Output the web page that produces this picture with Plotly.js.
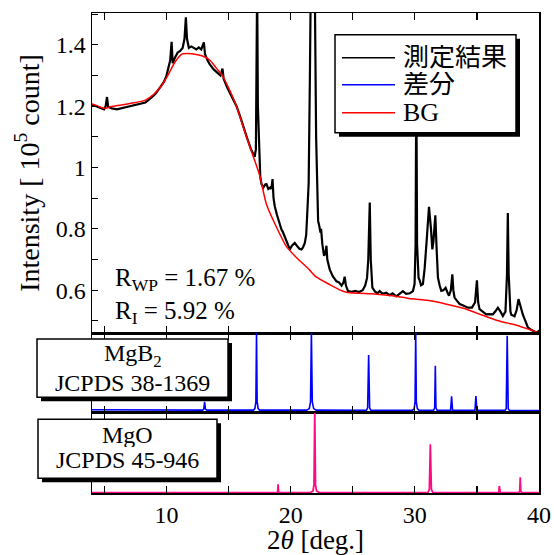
<!DOCTYPE html>
<html>
<head>
<meta charset="utf-8">
<script src="https://cdn.plot.ly/plotly-3.0.1.min.js"></script>
<style>html,body{margin:0;padding:0;background:#fff;}#chart{width:554px;height:555px;}</style>
</head>
<body>
<div id="chart"></div>
<script>
// ---- Data ----
// Measured pattern (2theta in deg, intensity in 10^5 count)
const measX = [4.00,4.30,4.60,4.97,5.10,5.21,5.30,5.60,6.00,6.50,7.00,7.50,7.90,8.30,8.70,9.10,9.50,9.80,10.00,10.15,10.30,10.41,10.50,10.70,10.90,11.10,11.30,11.45,11.56,11.65,11.80,12.00,12.20,12.40,12.60,12.80,13.01,13.10,13.30,13.49,13.80,14.10,14.35,14.51,14.60,14.90,15.20,15.50,15.64,15.90,16.20,16.50,16.80,16.98,17.10,17.20,17.25,17.30,17.36,17.45,17.55,17.65,17.80,17.95,18.05,18.20,18.35,18.45,18.54,18.62,18.72,18.90,19.10,19.26,19.35,19.50,19.70,19.93,20.10,20.33,20.50,20.70,20.87,21.00,21.14,21.25,21.32,21.45,21.55,21.62,21.80,21.94,22.05,22.15,22.21,22.30,22.40,22.45,22.55,22.69,22.80,22.88,22.95,23.15,23.40,23.69,23.90,24.10,24.25,24.35,24.45,24.62,24.90,25.20,25.50,25.80,26.00,26.15,26.25,26.37,26.45,26.58,26.80,27.00,27.17,27.40,27.70,27.97,28.20,28.51,28.80,29.04,29.30,29.60,29.85,29.98,30.06,30.12,30.18,30.30,30.39,30.50,30.65,30.79,30.95,31.14,31.30,31.41,31.50,31.65,31.75,31.86,32.00,32.13,32.30,32.48,32.60,32.75,32.90,33.02,33.10,33.20,33.40,33.61,33.90,34.27,34.60,34.85,35.00,35.10,35.21,35.50,35.75,36.00,36.29,36.50,36.69,36.90,37.09,37.30,37.42,37.49,37.56,37.70,37.77,38.03,38.20,38.35,38.50,38.70,38.90,39.10,39.40,39.78,39.96,40.00];
const measY = [1.205,1.200,1.195,1.190,1.200,1.230,1.198,1.193,1.190,1.195,1.200,1.205,1.207,1.212,1.225,1.240,1.262,1.280,1.300,1.330,1.350,1.410,1.340,1.360,1.375,1.380,1.390,1.420,1.490,1.420,1.390,1.395,1.390,1.385,1.392,1.385,1.408,1.370,1.350,1.336,1.320,1.310,1.300,1.323,1.290,1.260,1.235,1.210,1.200,1.170,1.130,1.095,1.060,1.042,1.035,1.060,1.200,1.600,1.200,1.050,0.970,0.946,0.935,0.945,0.946,0.930,0.935,0.930,0.962,0.900,0.874,0.845,0.815,0.798,0.792,0.775,0.755,0.733,0.745,0.754,0.745,0.735,0.733,0.740,0.754,0.780,0.837,0.950,1.300,1.600,1.550,1.600,1.100,0.870,0.826,0.810,0.788,0.800,0.750,0.712,0.720,0.745,0.700,0.667,0.645,0.629,0.625,0.615,0.625,0.644,0.615,0.597,0.595,0.598,0.594,0.600,0.615,0.640,0.700,0.886,0.700,0.608,0.595,0.590,0.597,0.588,0.592,0.584,0.590,0.580,0.590,0.597,0.588,0.590,0.597,0.620,0.750,1.300,0.750,0.640,0.632,0.616,0.620,0.671,0.760,0.872,0.800,0.733,0.760,0.844,0.740,0.641,0.615,0.598,0.600,0.608,0.595,0.582,0.600,0.652,0.600,0.576,0.565,0.555,0.550,0.543,0.543,0.560,0.632,0.560,0.538,0.530,0.521,0.522,0.521,0.532,0.543,0.530,0.516,0.530,0.650,0.852,0.650,0.530,0.520,0.515,0.535,0.571,0.545,0.520,0.500,0.479,0.470,0.462,0.465,0.470];
// Background
const bgX = [4.0,4.5,4.97,5.5,6.5,7.5,8.3,9.0,9.5,10.1,10.7,11.24,11.6,12.5,13.0,13.5,14.0,14.5,15.0,15.64,16.2,16.98,17.5,18.05,18.85,19.65,20.5,21.5,22.0,23.15,24.0,24.5,25.5,26.5,27.4,28.5,29.4,30.0,31.0,32.0,33.0,34.0,35.0,36.0,37.0,38.0,39.0,39.5,40.0];
const bgY = [1.207,1.200,1.193,1.198,1.205,1.212,1.220,1.240,1.262,1.300,1.345,1.370,1.372,1.368,1.362,1.350,1.325,1.300,1.260,1.200,1.130,1.037,0.975,0.880,0.806,0.743,0.705,0.667,0.645,0.618,0.600,0.593,0.590,0.588,0.585,0.580,0.574,0.571,0.567,0.560,0.550,0.540,0.525,0.510,0.497,0.488,0.475,0.468,0.460];
// MgB2 reference (JCPDS 38-1369), relative intensity
const mgb2X = [4.0,8.0,12.9,13.0,13.07,13.14,13.25,17.0,17.12,17.2,17.25,17.3,17.38,17.5,21.3,21.5,21.6,21.67,21.74,21.85,22.05,26.1,26.2,26.28,26.36,26.45,29.8,29.95,30.02,30.07,30.12,30.2,30.35,31.5,31.6,31.65,31.7,31.8,32.88,32.96,33.04,34.84,34.92,35.0,37.25,37.36,37.44,37.52,37.63,40.0];
const mgb2Y = [1.5,1.3,1.1,2.5,11.6,2.5,1.1,1.1,3,12,101,12,3,1.1,1.0,3,12,101,12,3,1.0,0.9,4,72,4,0.9,0.8,3,12,101,12,3,0.8,0.8,4,58,4,0.8,0.8,18.7,0.8,0.7,19,0.7,0.7,3,96.5,3,0.7,0.5];
// MgO reference (JCPDS 45-946), relative intensity
const mgoX = [4.0,18.88,18.95,18.99,19.03,19.10,21.6,21.8,21.88,21.94,22.0,22.08,22.3,31.05,31.17,31.25,31.33,31.45,36.72,36.77,36.8,36.83,36.88,38.38,38.45,38.49,38.53,38.6,40.0];
const mgoY = [0,0,1,10.4,1,0,0,2,10,101,10,2,0,0,4,60.7,4,0,0,1,8.3,1,0,0,2,19.2,2,0,0];
// Tick labels
const xTickVals = [10,20,30,40];
const xTickText = ['10','20','30','40'];
const xMinorVals = [5,15,25,35];
const yTickVals = [0.6,0.8,1.0,1.2,1.4];
const yTickText = ['0.6','0.8','1','1.2','1.4'];
const yMinorVals = [0.5,0.7,0.9,1.1,1.3,1.5];
const yAllVals = [0.5,0.6,0.7,0.8,0.9,1.0,1.1,1.2,1.3,1.4,1.5];
const seriesNames = ['測定結果','差分','BG'];
const seriesColors = ['#000000','#0000ff','#ff0000'];

// ---- Layout helpers ----
const W = 554, H = 555;
const L = 92, R = 539, T = 13.3, B = 492.7;
const px = v => (v - L) / (R - L);
const py = v => (B - v) / (B - T);
const FONT = 'Liberation Serif, Lato, Noto Sans CJK JP';

const traces = [
  {x: measX, y: measY, xaxis: 'x', yaxis: 'y', mode: 'lines', name: seriesNames[0],
   line: {color: seriesColors[0], width: 2.2}},
  {x: mgb2X, y: mgb2Y, xaxis: 'x2', yaxis: 'y2', mode: 'lines', name: seriesNames[1],
   line: {color: seriesColors[1], width: 1.6}},
  {x: bgX, y: bgY, xaxis: 'x', yaxis: 'y', mode: 'lines', name: seriesNames[2],
   line: {color: seriesColors[2], width: 1.5, shape: 'spline', smoothing: 0.6}},
  {x: mgoX, y: mgoY, xaxis: 'x3', yaxis: 'y3', mode: 'lines', name: 'MgO',
   line: {color: '#ff0a84', width: 1.8}}
];

const xCommon = {
  range: [4, 40], showgrid: false, zeroline: false,
  showline: true, linecolor: '#000', linewidth: 1.5, mirror: 'ticks',
  ticks: 'inside', ticklen: 7, tickwidth: 1.2, tickcolor: '#000',
  tickmode: 'array', tickvals: xTickVals, ticktext: xTickText,
  minor: {tickmode: 'array', tickvals: xMinorVals, ticks: 'inside', ticklen: 7, tickwidth: 1.2, tickcolor: '#000'}
};
const d1 = [py(333), 1], d2 = [py(412.7), py(333)], d3 = [0, py(412.7)];

// legend drawn as a framed box with a drop shadow
const legRows = [57, 84, 112];
const legShapes = [
  {type: 'rect', xref: 'paper', yref: 'paper', x0: px(339), x1: px(520), y0: py(137), y1: py(39),
   fillcolor: '#000', line: {width: 0}, layer: 'above'},
  {type: 'rect', xref: 'paper', yref: 'paper', x0: px(335), x1: px(516), y0: py(133), y1: py(35),
   fillcolor: '#fff', line: {color: '#000', width: 1.5}, layer: 'above'}
];
const legAnns = [];
seriesNames.forEach((n, i) => {
  legShapes.push({type: 'line', xref: 'paper', yref: 'paper', x0: px(342), x1: px(395),
    y0: py(legRows[i] + 1), y1: py(legRows[i] + 1), line: {color: seriesColors[i], width: 1.5}, layer: 'above'});
  legAnns.push({xref: 'paper', yref: 'paper', x: px(401), y: py(legRows[i]), xanchor: 'left', yanchor: 'middle',
    text: n, showarrow: false, font: {family: FONT, size: 26}, height: 24});
});

const layout = {
  width: W, height: H,
  margin: {l: L, r: W - R, t: T, b: H - B, pad: 0},
  paper_bgcolor: '#fff', plot_bgcolor: '#fff',
  font: {family: FONT, size: 24, color: '#000'},
  showlegend: false,
  xaxis: Object.assign({}, xCommon, {anchor: 'y', showticklabels: false}),
  xaxis2: Object.assign({}, xCommon, {anchor: 'y2', matches: 'x', showticklabels: false}),
  xaxis3: Object.assign({}, xCommon, {anchor: 'y3', matches: 'x', showticklabels: true,
    tickfont: {family: FONT, size: 24},
    title: {text: '2<i>θ</i> [deg.]', font: {family: FONT, size: 27}, standoff: 10}}),
  yaxis: {
    domain: d1, range: [0.46, 1.504], anchor: 'x', showgrid: false, zeroline: false,
    showline: true, linecolor: '#000', linewidth: 1.5, mirror: true,
    ticks: 'inside', ticklen: 6, tickwidth: 1.2, tickcolor: '#000',
    tickmode: 'array', tickvals: yTickVals, ticktext: yTickText,
    minor: {tickmode: 'array', tickvals: yMinorVals, ticks: 'inside', ticklen: 6, tickwidth: 1.2, tickcolor: '#000'},
    tickfont: {family: FONT, size: 24},
    title: {text: 'Intensity [ 10<sup>5</sup> count]', font: {family: FONT, size: 28}, standoff: 8}
  },
  yaxis4: {
    overlaying: 'y', side: 'right', anchor: 'x', range: [0.46, 1.504],
    showgrid: false, zeroline: false, showline: false,
    ticks: 'inside', ticklen: 10, tickwidth: 1.2, tickcolor: '#000',
    tickmode: 'array', tickvals: yAllVals, showticklabels: false
  },
  yaxis2: {
    domain: d2, range: [-2.5, 100], anchor: 'x2', showgrid: false, zeroline: false,
    showline: true, linecolor: '#000', linewidth: 1.5, mirror: true, ticks: '', showticklabels: false
  },
  yaxis3: {
    domain: d3, range: [-0.5, 100], anchor: 'x3', showgrid: false, zeroline: false,
    showline: true, linecolor: '#000', linewidth: 1.5, mirror: true, ticks: '', showticklabels: false
  },
  shapes: legShapes.concat([
    // MgB2 label box (shadow + box)
    {type: 'rect', xref: 'paper', yref: 'paper', x0: px(41), x1: px(232), y0: py(401), y1: py(343),
     fillcolor: '#000', line: {width: 0}, layer: 'above'},
    {type: 'rect', xref: 'paper', yref: 'paper', x0: px(37), x1: px(228), y0: py(397), y1: py(339),
     fillcolor: '#fff', line: {color: '#000', width: 1.5}, layer: 'above'},
    // MgO label box (shadow + box)
    {type: 'rect', xref: 'paper', yref: 'paper', x0: px(42), x1: px(221), y0: py(482), y1: py(423),
     fillcolor: '#000', line: {width: 0}, layer: 'above'},
    {type: 'rect', xref: 'paper', yref: 'paper', x0: px(38), x1: px(217), y0: py(478), y1: py(419),
     fillcolor: '#fff', line: {color: '#000', width: 1.5}, layer: 'above'}
  ]),
  annotations: legAnns.concat([
    {xref: 'paper', yref: 'paper', x: px(113), y: py(262), xanchor: 'left', yanchor: 'top',
     text: 'R<sub>WP</sub> = 1.67 %<br>R<sub>I</sub> = 5.92 %', align: 'left', showarrow: false,
     font: {family: FONT, size: 25}},
    {xref: 'paper', yref: 'paper', x: px(132.5), y: py(355), xanchor: 'center', yanchor: 'middle',
     text: 'MgB<sub>2</sub>', showarrow: false, font: {family: FONT, size: 24}, height: 25},
    {xref: 'paper', yref: 'paper', x: px(132.5), y: py(382), xanchor: 'center', yanchor: 'middle',
     text: 'JCPDS 38-1369', showarrow: false, font: {family: FONT, size: 24}, height: 25},
    {xref: 'paper', yref: 'paper', x: px(127.7), y: py(435), xanchor: 'center', yanchor: 'middle',
     text: 'MgO', showarrow: false, font: {family: FONT, size: 24}, height: 24},
    {xref: 'paper', yref: 'paper', x: px(127.7), y: py(460), xanchor: 'center', yanchor: 'middle',
     text: 'JCPDS 45-946', showarrow: false, font: {family: FONT, size: 24}, height: 24}
  ])
};

Plotly.newPlot('chart', traces, layout, {staticPlot: true, displayModeBar: false});
</script>
</body>
</html>
